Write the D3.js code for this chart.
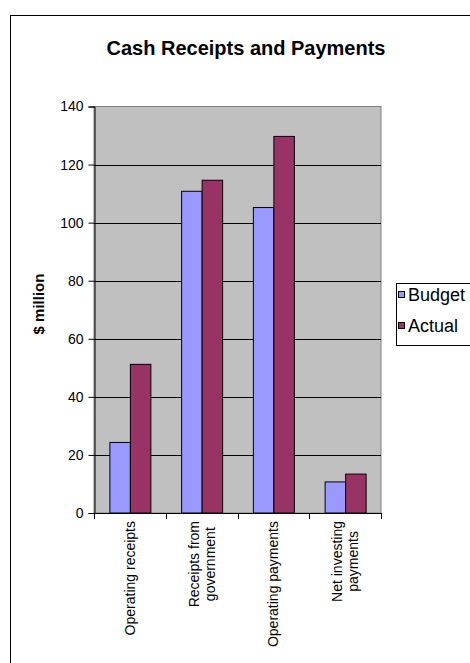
<!DOCTYPE html>
<html>
<head>
<meta charset="utf-8">
<script src="https://cdn.jsdelivr.net/npm/d3@7"></script>
<style>
  html, body { margin: 0; padding: 0; background: #fff; }
  svg { display: block; }
  text { font-family: "Liberation Sans", Arial, sans-serif; fill: #000; }
</style>
</head>
<body>
<svg id="chart" width="470" height="663"></svg>
<script>
// Cash receipts and payments, $ million
const categories = [
  "Operating receipts",
  "Receipts from\ngovernment",
  "Operating payments",
  "Net investing\npayments"
];
const seriesNames = ["Budget", "Actual"];
const budget = [24.3, 110.8, 105.2, 10.7];
const actual = [51.2, 114.6, 129.7, 13.4];
const yTicks = [0, 20, 40, 60, 80, 100, 120, 140];
const seriesColors = ["#9999FF", "#993366"];

const svg = d3.select("#chart");
const margin = { left: 94, right: 381, top: 106.5, bottom: 513 };

// outer chart frame (runs past the right and bottom edges)
svg.append("rect")
  .attr("x", 10.5).attr("y", 15.5)
  .attr("width", 480).attr("height", 660)
  .attr("fill", "#fff").attr("stroke", "#000").attr("stroke-width", 1);

const y = d3.scaleLinear().domain([0, 140]).range([margin.bottom, margin.top]);
const x0 = d3.scaleBand().domain(categories).range([margin.left, margin.right])
  .paddingInner(0).paddingOuter(0);
const x1 = d3.scaleBand().domain(seriesNames).range([0, x0.bandwidth()])
  .paddingInner(0).paddingOuter(0.75);

// plot area
svg.append("rect")
  .attr("x", margin.left).attr("y", margin.top)
  .attr("width", margin.right - margin.left)
  .attr("height", margin.bottom - margin.top)
  .attr("fill", "#C0C0C0").attr("stroke", "#808080").attr("stroke-width", 1);

// gridlines
svg.append("g").selectAll("line")
  .data(yTicks.filter(t => t > 0 && t < 140))
  .join("line")
  .attr("x1", margin.left).attr("x2", margin.right)
  .attr("y1", d => Math.round(y(d)) + 0.5).attr("y2", d => Math.round(y(d)) + 0.5)
  .attr("stroke", "#000").attr("stroke-width", 1);

// bars
const rows = categories.map((c, i) => ({ cat: c, values: [budget[i], actual[i]] }));
const groups = svg.append("g").selectAll("g")
  .data(rows)
  .join("g")
  .attr("transform", d => `translate(${x0(d.cat)},0)`);
groups.selectAll("rect")
  .data(d => d.values.map((v, j) => ({ name: seriesNames[j], value: v, color: seriesColors[j] })))
  .join("rect")
  .attr("x", d => x1(d.name) + 0.5)
  .attr("y", d => y(d.value))
  .attr("width", x1.bandwidth())
  .attr("height", d => y(0) - y(d.value))
  .attr("fill", d => d.color)
  .attr("stroke", "#000").attr("stroke-width", 1);

// y axis
const yAxis = d3.axisLeft(y).tickValues(yTicks).tickSize(6).tickPadding(5);
const yg = svg.append("g")
  .attr("transform", `translate(${margin.left + 0.5},0)`)
  .call(yAxis);
yg.select(".domain").attr("stroke", "#000");
yg.selectAll(".tick line").attr("stroke", "#000");
yg.selectAll(".tick text")
  .attr("font-size", 14).attr("font-family", "Liberation Sans, Arial, sans-serif")
  .attr("fill", "#000");

// x axis line and tick marks at category boundaries
const boundaries = categories.map(c => x0(c)).concat([x0.range()[1]]);
svg.append("line")
  .attr("x1", margin.left).attr("x2", margin.right)
  .attr("y1", margin.bottom + 0.5).attr("y2", margin.bottom + 0.5)
  .attr("stroke", "#000");
svg.append("g").selectAll("line")
  .data(boundaries)
  .join("line")
  .attr("x1", d => Math.round(d) + 0.5).attr("x2", d => Math.round(d) + 0.5)
  .attr("y1", margin.bottom).attr("y2", margin.bottom + 6)
  .attr("stroke", "#000");

// category labels, rotated, lines centred on each other
const lineGap = 16;
const labelTop = 521;
categories.forEach(c => {
  const lines = c.split("\n");
  const cx = x0(c) + x0.bandwidth() / 2;
  const g = svg.append("g");
  const texts = lines.map((ln, k) => {
    const off = (k - (lines.length - 1) / 2) * lineGap;
    return g.append("text")
      .attr("font-size", 14)
      .attr("text-anchor", "middle")
      .attr("data-off", off)
      .text(ln);
  });
  const maxW = d3.max(texts, t => t.node().getComputedTextLength());
  texts.forEach(t => {
    const off = +t.attr("data-off");
    t.attr("transform", `translate(${cx + off + 5},${labelTop + maxW / 2}) rotate(-90)`);
  });
});

// y axis title
svg.append("text")
  .attr("transform", "translate(44,304) rotate(-90)")
  .attr("text-anchor", "middle")
  .attr("font-size", 15).attr("font-weight", "bold")
  .text("$ million");

// chart title
svg.append("text")
  .attr("x", 246).attr("y", 55)
  .attr("text-anchor", "middle")
  .attr("font-size", 20).attr("font-weight", "bold")
  .text("Cash Receipts and Payments");

// legend
const legend = svg.append("g");
legend.append("rect")
  .attr("x", 396.5).attr("y", 283.5)
  .attr("width", 100).attr("height", 62)
  .attr("fill", "#fff").attr("stroke", "#000");
seriesNames.forEach((name, i) => {
  const base = 301 + i * 31;
  legend.append("rect")
    .attr("x", 398.5).attr("y", base - 9.5)
    .attr("width", 6).attr("height", 6)
    .attr("fill", seriesColors[i]).attr("stroke", "#000");
  legend.append("text")
    .attr("x", 408).attr("y", base)
    .attr("font-size", 18)
    .text(name);
});
</script>
</body>
</html>
